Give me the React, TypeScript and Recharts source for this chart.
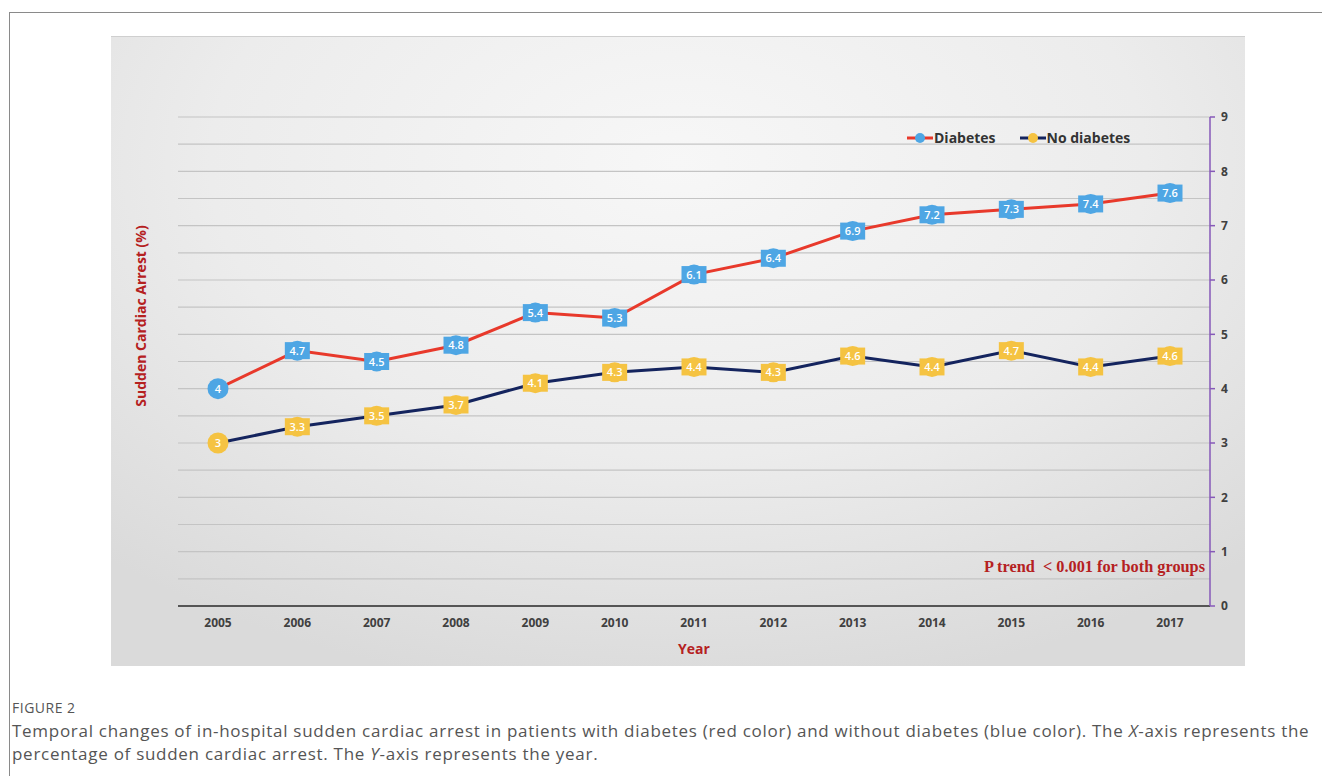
import React from 'react';
import {
    LineChart,
    Line,
    XAxis,
    YAxis,
    CartesianGrid,
} from 'recharts';

const YEARS = ['2005', '2006', '2007', '2008', '2009', '2010', '2011', '2012', '2013', '2014', '2015', '2016', '2017'];
const DIABETES = [4, 4.7, 4.5, 4.8, 5.4, 5.3, 6.1, 6.4, 6.9, 7.2, 7.3, 7.4, 7.6];
const NO_DIABETES = [3, 3.3, 3.5, 3.7, 4.1, 4.3, 4.4, 4.3, 4.6, 4.4, 4.7, 4.4, 4.6];
const Y_TICKS = [0, 1, 2, 3, 4, 5, 6, 7, 8, 9];
const GRID_VALUES = [0.5, 1, 1.5, 2, 2.5, 3, 3.5, 4, 4.5, 5, 5.5, 6, 6.5, 7, 7.5, 8, 8.5, 9];

const RED = '#e8392b';
const NAVY = '#14245e';
const BLUE = '#4ea6e4';
const YELLOW = '#f5c342';
const DARK_RED = '#b5211f';
const AXIS_PURPLE = '#8659b8';
const LABEL_FONT = '"Open Sans", "Noto Sans", sans-serif';

const chartData = YEARS.map((year, i) => ({
    year,
    diabetes: DIABETES[i],
    noDiabetes: NO_DIABETES[i],
}));

// marker + data label drawn like the excel callouts
const makeMarker = (fill: string, key: string) => (props: any) => {
    const { cx, cy, index, payload } = props;
    if (cx == null || cy == null) return <g key={`${key}-${index}`} />;
    const text = String(payload[key]);
    return (
        <g key={`${key}-${index}`}>
            {index === 0 ? (
                <circle cx={cx} cy={cy} r={10.5} fill={fill} />
            ) : (
                <>
                    <circle cx={cx} cy={cy} r={10} fill={fill} />
                    <rect x={cx - 12.5} y={cy - 8.5} width={25} height={17} fill={fill} />
                </>
            )}
            <text
                x={cx}
                y={cy + 4}
                textAnchor="middle"
                fill="#fff"
                fontSize={11}
                fontWeight={600}
                fontFamily={LABEL_FONT}
            >
                {text}
            </text>
        </g>
    );
};

const LEGEND_ITEMS = [
    { name: 'Diabetes', line: RED, dot: BLUE },
    { name: 'No diabetes', line: NAVY, dot: YELLOW },
];

const ChartLegend = () => (
    <div
        style={{
            position: 'absolute',
            left: 796,
            top: 91,
            display: 'flex',
            gap: 24,
            fontFamily: LABEL_FONT,
            fontWeight: 700,
            fontSize: 14,
            color: '#333',
            whiteSpace: 'nowrap',
        }}
    >
        {LEGEND_ITEMS.map((it) => (
            <div key={it.name} style={{ display: 'flex', alignItems: 'center' }}>
                <svg width={26} height={12} style={{ marginRight: 1 }}>
                    <line x1={0} y1={6} x2={26} y2={6} stroke={it.line} strokeWidth={3} />
                    <circle cx={13} cy={6} r={5} fill={it.dot} />
                </svg>
                <span>{it.name}</span>
            </div>
        ))}
    </div>
);

export default function App() {
    return (
        <div style={{ position: 'absolute', left: 0, top: 0, width: 1322, height: 776, background: '#fff', overflow: 'hidden' }}>
            <div
                style={{
                    position: 'absolute',
                    left: 9,
                    top: 12,
                    width: 1400,
                    height: 800,
                    borderTop: '1px solid #8a8a8a',
                    borderLeft: '1px solid #8a8a8a',
                }}
            />
            <div
                style={{
                    position: 'absolute',
                    left: 111,
                    top: 36,
                    width: 1134,
                    height: 630,
                    background: 'radial-gradient(ellipse 75% 85% at 50% 20%, #f7f7f7 0%, #ececec 55%, #dadada 100%)',
                    borderTop: '1px solid #cfcfcf',
                    boxSizing: 'border-box',
                }}
            >
                <LineChart
                    width={1134}
                    height={630}
                    data={chartData}
                    margin={{ top: 80, right: 5, left: 67, bottom: 31 }}
                >
                    <CartesianGrid
                        horizontal
                        vertical={false}
                        stroke="#c4c4c4"
                        strokeWidth={1.2}
                        horizontalValues={GRID_VALUES}
                    />
                    <XAxis
                        dataKey="year"
                        padding={{ left: 40, right: 40 }}
                        axisLine={{ stroke: '#555', strokeWidth: 2 }}
                        tickLine={false}
                        tick={{ fill: '#404040', fontSize: 12, fontWeight: 700, fontFamily: LABEL_FONT }}
                        tickMargin={6}
                        height={30}
                        label={{
                            value: 'Year',
                            position: 'insideBottom',
                            offset: -18,
                            fill: DARK_RED,
                            fontSize: 14,
                            fontWeight: 700,
                            fontFamily: LABEL_FONT,
                        }}
                    />
                    <YAxis
                        orientation="right"
                        domain={[0, 9]}
                        ticks={Y_TICKS}
                        interval={0}
                        width={30}
                        axisLine={{ stroke: AXIS_PURPLE, strokeWidth: 1.5 }}
                        tickLine={{ stroke: AXIS_PURPLE, strokeWidth: 1.5 }}
                        tickSize={5}
                        tickMargin={6}
                        tick={{ fill: '#404040', fontSize: 12, fontWeight: 700, fontFamily: LABEL_FONT, textAnchor: 'start' }}
                    />
                    <Line
                        type="linear"
                        dataKey="diabetes"
                        name="Diabetes"
                        stroke={RED}
                        strokeWidth={3}
                        dot={makeMarker(BLUE, 'diabetes')}
                        activeDot={false}
                        isAnimationActive={false}
                    />
                    <Line
                        type="linear"
                        dataKey="noDiabetes"
                        name="No diabetes"
                        stroke={NAVY}
                        strokeWidth={3}
                        dot={makeMarker(YELLOW, 'noDiabetes')}
                        activeDot={false}
                        isAnimationActive={false}
                    />
                </LineChart>
                <ChartLegend />
                <div style={{ position: 'absolute', left: 29, top: 279, width: 0, height: 0 }}>
                    <div
                        style={{
                            position: 'absolute',
                            transform: 'translate(-50%, -50%) rotate(-90deg)',
                            whiteSpace: 'nowrap',
                            color: DARK_RED,
                            fontFamily: LABEL_FONT,
                            fontWeight: 700,
                            fontSize: 14,
                        }}
                    >
                        Sudden Cardiac Arrest (%)
                    </div>
                </div>
                <div
                    style={{
                        position: 'absolute',
                        left: 873,
                        top: 520,
                        whiteSpace: 'nowrap',
                        color: DARK_RED,
                        fontFamily: '"Liberation Serif", "DejaVu Serif", serif',
                        fontWeight: 700,
                        fontSize: 16.3,
                    }}
                >
                    P trend&nbsp;&nbsp;&lt; 0.001 for both groups
                </div>
            </div>
            <div
                style={{
                    position: 'absolute',
                    left: 12,
                    top: 698,
                    fontFamily: LABEL_FONT,
                    fontSize: 14,
                    letterSpacing: 0.5,
                    color: '#555',
                }}
            >
                FIGURE 2
            </div>
            <div
                style={{
                    position: 'absolute',
                    left: 12,
                    top: 719,
                    whiteSpace: 'nowrap',
                    fontFamily: LABEL_FONT,
                    fontSize: 17,
                    letterSpacing: 0.72,
                    lineHeight: '23px',
                    color: '#555',
                }}
            >
                Temporal changes of in-hospital sudden cardiac arrest in patients with diabetes (red color) and without
                diabetes (blue color). The <i>X</i>-axis represents the
                <br />
                percentage of sudden cardiac arrest. The <i>Y</i>-axis represents the year.
            </div>
        </div>
    );
}
